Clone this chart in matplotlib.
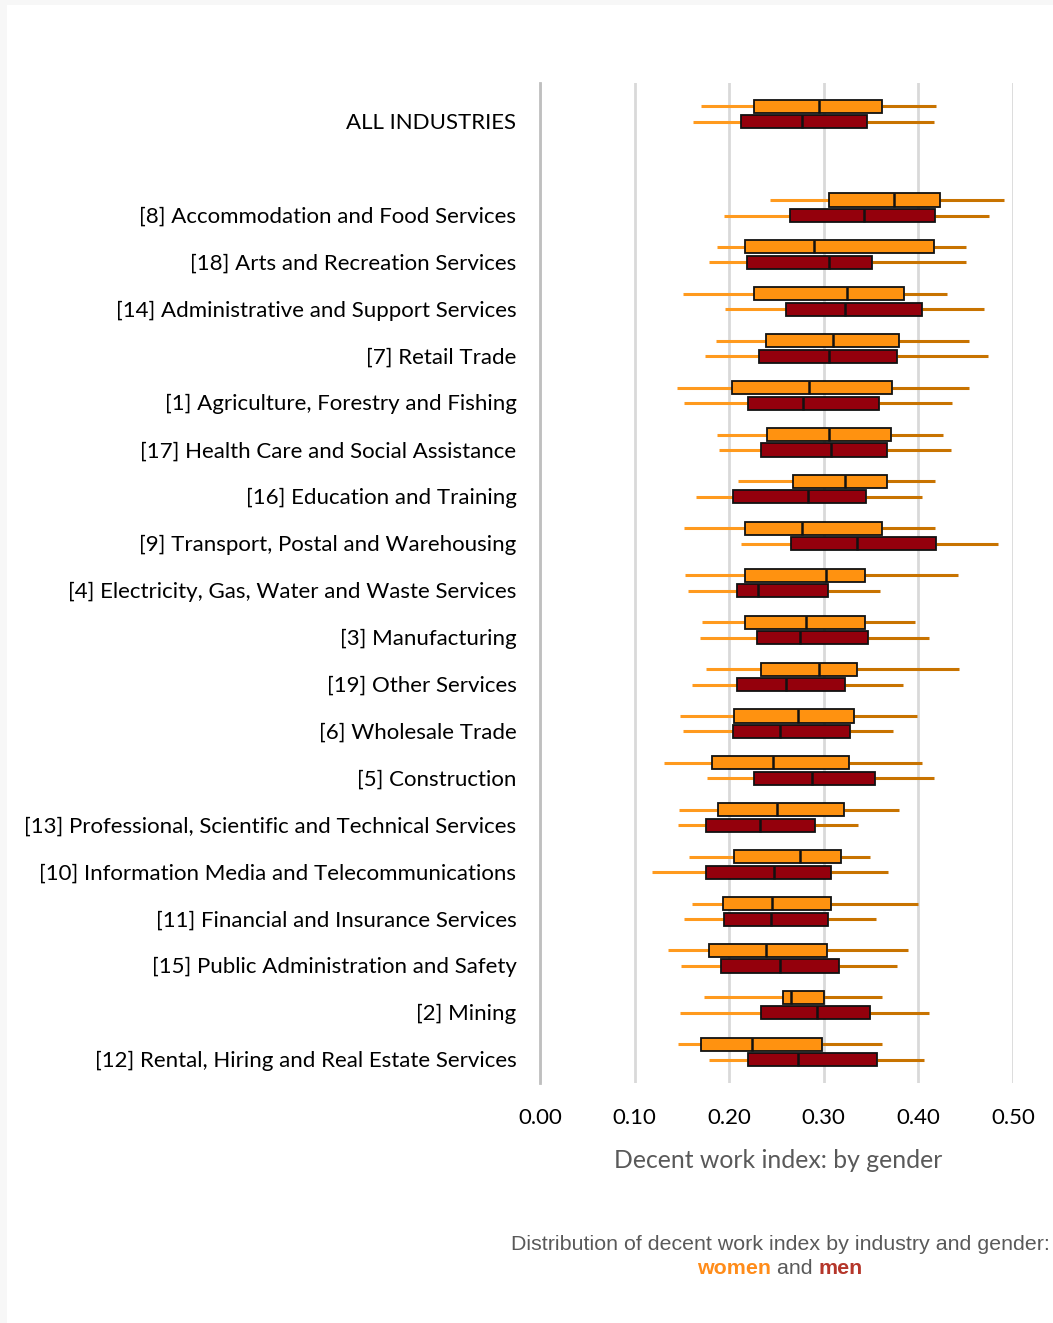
import matplotlib
matplotlib.use("Agg")
import matplotlib.pyplot as plt
from matplotlib.transforms import ScaledTranslation

# Industry categories (top to bottom)
categories = [
    "ALL INDUSTRIES",
    "[8] Accommodation and Food Services",
    "[18] Arts and Recreation Services",
    "[14] Administrative and Support Services",
    "[7] Retail Trade",
    "[1] Agriculture, Forestry and Fishing",
    "[17] Health Care and Social Assistance",
    "[16] Education and Training",
    "[9] Transport, Postal and Warehousing",
    "[4] Electricity, Gas, Water and Waste Services",
    "[3] Manufacturing",
    "[19] Other Services",
    "[6] Wholesale Trade",
    "[5] Construction",
    "[13] Professional, Scientific and Technical Services",
    "[10] Information Media and Telecommunications",
    "[11] Financial and Insurance Services",
    "[15] Public Administration and Safety",
    "[2] Mining",
    "[12] Rental, Hiring and Real Estate Services",
]

# Women: whisker low, Q1, median, Q3, whisker high
women_low = [0.170, 0.243, 0.187, 0.151, 0.186, 0.145, 0.187, 0.209, 0.152, 0.153,
             0.171, 0.176, 0.148, 0.131, 0.147, 0.158, 0.161, 0.135, 0.173, 0.146]
women_q1 = [0.226, 0.306, 0.217, 0.226, 0.239, 0.203, 0.240, 0.267, 0.217, 0.217,
            0.217, 0.234, 0.205, 0.182, 0.188, 0.205, 0.193, 0.179, 0.257, 0.170]
women_med = [0.295, 0.374, 0.290, 0.325, 0.310, 0.284, 0.306, 0.322, 0.277, 0.302,
             0.281, 0.295, 0.273, 0.246, 0.251, 0.275, 0.245, 0.239, 0.265, 0.224]
women_q3 = [0.361, 0.423, 0.417, 0.385, 0.379, 0.372, 0.371, 0.367, 0.362, 0.344,
            0.344, 0.335, 0.332, 0.327, 0.321, 0.318, 0.308, 0.303, 0.300, 0.298]
women_high = [0.419, 0.490, 0.450, 0.430, 0.454, 0.454, 0.426, 0.418, 0.418, 0.442,
              0.396, 0.443, 0.398, 0.404, 0.379, 0.349, 0.400, 0.389, 0.362, 0.361]

# Men: whisker low, Q1, median, Q3, whisker high
men_low = [0.162, 0.195, 0.179, 0.196, 0.174, 0.152, 0.189, 0.165, 0.212, 0.156,
           0.169, 0.161, 0.151, 0.177, 0.146, 0.118, 0.152, 0.149, 0.148, 0.179]
men_q1 = [0.213, 0.264, 0.219, 0.260, 0.232, 0.220, 0.234, 0.204, 0.265, 0.208,
          0.229, 0.208, 0.204, 0.226, 0.176, 0.175, 0.195, 0.191, 0.234, 0.220]
men_med = [0.277, 0.343, 0.305, 0.322, 0.306, 0.278, 0.308, 0.283, 0.335, 0.230,
           0.275, 0.260, 0.254, 0.287, 0.233, 0.247, 0.244, 0.254, 0.293, 0.273]
men_q3 = [0.346, 0.418, 0.351, 0.404, 0.377, 0.358, 0.367, 0.345, 0.419, 0.304,
          0.347, 0.322, 0.328, 0.354, 0.291, 0.308, 0.304, 0.316, 0.349, 0.356]
men_high = [0.416, 0.475, 0.450, 0.469, 0.474, 0.435, 0.434, 0.404, 0.484, 0.359,
            0.411, 0.384, 0.373, 0.417, 0.336, 0.368, 0.355, 0.377, 0.411, 0.406]

x_ticks = [0.0, 0.1, 0.2, 0.3, 0.4, 0.5]

WOMEN = "#FF9210"
MEN = "#94000C"
WHISK_LO = "#FF9A1E"
WHISK_HI = "#C87300"

# Row slots: "ALL INDUSTRIES" first, then a blank row, then industries
slots = [0] + list(range(2, 2 + len(categories) - 1))


def make_stats(lo, q1, med, q3, hi):
    return [dict(whislo=a, q1=b, med=c, q3=d, whishi=e, fliers=[])
            for a, b, c, d, e in zip(lo, q1, med, q3, hi)]


W, H, DPI = 1053, 1323, 100
fig = plt.figure(figsize=(W / DPI, H / DPI), dpi=DPI, facecolor="#F7F7F7")
# white panel behind everything
panel = plt.Rectangle((7 / W, 0), 1, 1 - 5 / H, transform=fig.transFigure,
                      facecolor="white", edgecolor="none", zorder=-10)
fig.patches.append(panel)

ax = fig.add_axes([540 / W, 1 - 1083 / H, (1013 - 540) / W, 1000 / H])
ax.set_facecolor("none")

off = 0.165
bw = 0.28
for stats, shift, color in [
    (make_stats(women_low, women_q1, women_med, women_q3, women_high), -off, WOMEN),
    (make_stats(men_low, men_q1, men_med, men_q3, men_high), off, MEN),
]:
    res = ax.bxp(stats, positions=[s + shift for s in slots], widths=bw, vert=False,
                 patch_artist=True, showcaps=False, showfliers=False,
                 boxprops=dict(facecolor=color, edgecolor="#111111", linewidth=1.3),
                 medianprops=dict(color="#111111", linewidth=1.8),
                 whiskerprops=dict(linewidth=2.2, solid_capstyle="butt"),
                 manage_ticks=False)
    for i, wl in enumerate(res["whiskers"]):
        wl.set_color(WHISK_LO if i % 2 == 0 else WHISK_HI)
        wl.set_zorder(1.5)
    for b in res["boxes"]:
        b.set_zorder(2)
    for m in res["medians"]:
        m.set_zorder(2.5)

ax.set_xlim(0, 0.5)
ax.set_ylim(slots[-1] + 0.66, -0.66)
ax.set_xticks(x_ticks)
ax.set_xticklabels([f"{v:.2f}" for v in x_ticks])
ax.set_yticks(slots)
ax.set_yticklabels(categories)

ax.xaxis.grid(True, color="#D9D9D9", linewidth=2)
ax.set_axisbelow(True)
for side in ["top", "right", "bottom"]:
    ax.spines[side].set_visible(False)
ax.spines["left"].set_color("#BFBFBF")
ax.spines["left"].set_linewidth(2)
ax.tick_params(axis="both", length=0, labelsize=16, colors="black")
ax.tick_params(axis="y", pad=17)
ax.tick_params(axis="x", pad=18)

label_font = "Lato"
for lab in ax.get_yticklabels():
    lab.set_fontfamily(label_font)
    lab.set_transform(lab.get_transform() + ScaledTranslation(0, -5 / 72, fig.dpi_scale_trans))
for lab in ax.get_xticklabels():
    lab.set_fontfamily(label_font)

fig.text(778 / W, 1 - 1161 / H, "Decent work index: by gender", ha="center", va="center",
         fontsize=17.8, color="#595959", family=label_font)

cap_size = 15.4
fig.text(780 / W, 1 - 1244 / H, "Distribution of decent work index by industry and gender:",
         ha="center", va="center", fontsize=cap_size, color="#595959", family="Liberation Sans")
mid = fig.text(795 / W, 1 - 1269 / H, " and ", ha="center", va="center",
               fontsize=cap_size, color="#595959", family="Liberation Sans")
fig.add_artist(plt.Annotation("women", xy=(0, 0), xycoords=mid, ha="right", va="bottom",
                              fontsize=cap_size, color="#FF8C1A", fontweight="bold",
                              family="Liberation Sans"))
fig.add_artist(plt.Annotation("men", xy=(1, 0), xycoords=mid, ha="left", va="bottom",
                              fontsize=cap_size, color="#B5362A", fontweight="bold",
                              family="Liberation Sans"))

fig.savefig("out.png", dpi=DPI, facecolor=fig.get_facecolor())
